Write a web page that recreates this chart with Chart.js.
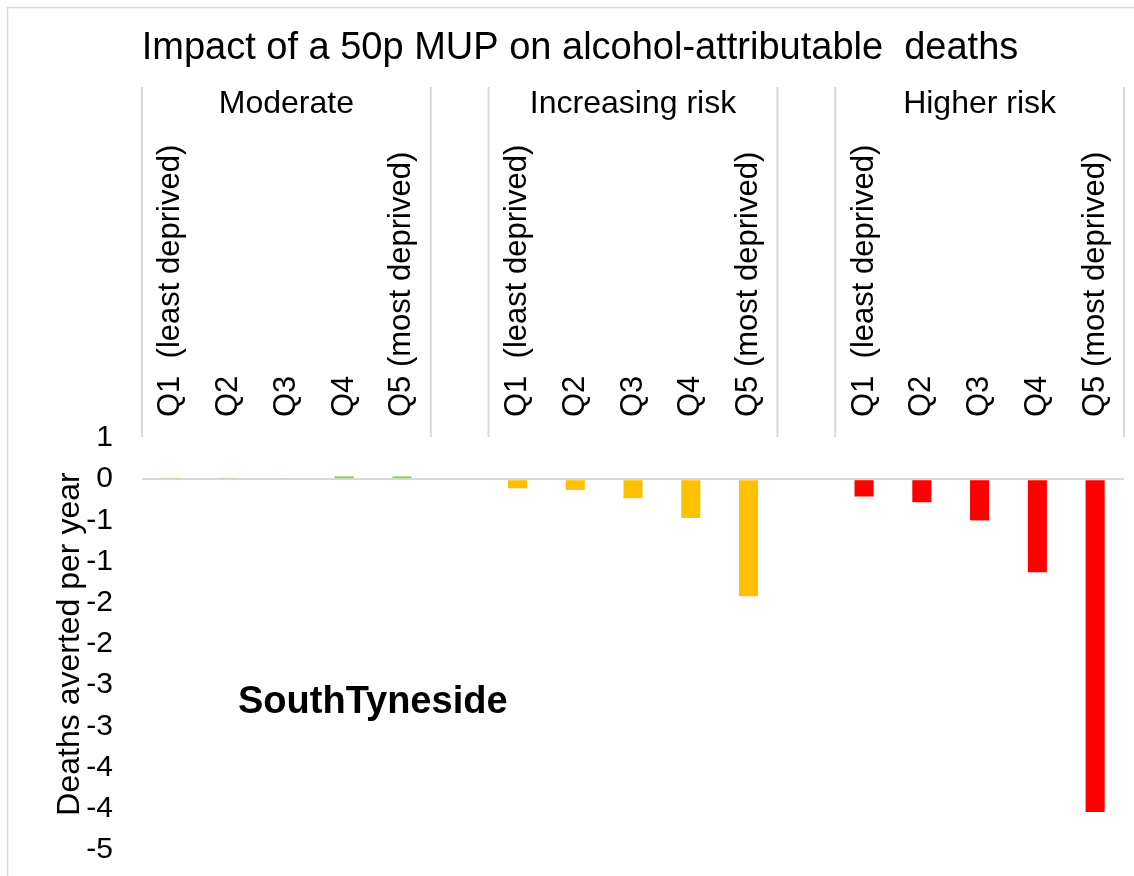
<!DOCTYPE html>
<html>
<head>
<meta charset="utf-8">
<script src="https://cdn.jsdelivr.net/npm/chart.js@4.4.0/dist/chart.umd.min.js"></script>
<style>
  html, body { margin: 0; padding: 0; background: #ffffff; }
  #wrap { width: 1134px; height: 876px; position: relative; }
</style>
</head>
<body>
<div id="wrap"><canvas id="c" width="1134" height="876"></canvas></div>
<script>
const chartTitle = 'Impact of a 50p MUP on alcohol-attributable  deaths';
const yAxisTitle = 'Deaths averted per year';
const areaLabel = 'SouthTyneside';
const groups = ['Moderate', 'Increasing risk', 'Higher risk'];
const quintiles = ['Q1  (least deprived)', 'Q2', 'Q3', 'Q4', 'Q5 (most deprived)'];
const moderate = [0.008, 0.008, 0.01, 0.035, 0.035];
const increasing = [-0.11, -0.13, -0.23, -0.47, -1.42];
const higher = [-0.21, -0.28, -0.50, -1.13, -4.04];
const groupColors = ['#92D050', '#FFC000', '#FF0000'];
const yTickValues = [0.5, 0, -0.5, -1, -1.5, -2, -2.5, -3, -3.5, -4, -4.5];
const yTickLabels = ['1', '0', '-1', '-1', '-2', '-2', '-3', '-3', '-4', '-4', '-5'];

// Build the category table (a blank gap category between groups)
const groupValues = [moderate, increasing, higher];
const labels = [];
const values = [];
const colors = [];
groupValues.forEach((vals, g) => {
  if (g > 0) { labels.push(''); values.push(null); colors.push('rgba(0,0,0,0)'); }
  vals.forEach((v, i) => {
    labels.push(quintiles[i]);
    values.push(v);
    colors.push(groupColors[g]);
  });
});

const FONT = '"Liberation Sans", Arial, sans-serif';
const TITLE_SIZE = 38;
const TITLE_PAD_TOP = 26;
const PLOT_TOP = 438;

const decorPlugin = {
  id: 'decor',
  beforeDraw(chart) {
    const ctx = chart.ctx;
    ctx.save();
    ctx.strokeStyle = '#D9D9D9';
    ctx.lineWidth = 1.5;
    ctx.beginPath();
    ctx.moveTo(7.5, 876);
    ctx.lineTo(7.5, 7.5);
    ctx.lineTo(1134, 7.5);
    ctx.stroke();
    ctx.restore();
  },
  afterDraw(chart) {
    const ctx = chart.ctx;
    const xs = chart.scales.x;
    const n = labels.length;
    const cw = (xs.right - xs.left) / n;
    ctx.save();
    // group separators
    ctx.strokeStyle = '#D9D9D9';
    ctx.lineWidth = 2;
    let idx = 0;
    const bounds = [];
    groupValues.forEach((vals, g) => {
      if (g > 0) idx += 1;
      const start = xs.getPixelForValue(idx) - cw / 2;
      const end = xs.getPixelForValue(idx + vals.length - 1) + cw / 2;
      bounds.push([start, end]);
      idx += vals.length;
    });
    bounds.forEach(([s, e]) => {
      [s, e].forEach(x => {
        ctx.beginPath();
        ctx.moveTo(x, 87);
        ctx.lineTo(x, 437);
        ctx.stroke();
      });
    });
    // group labels
    ctx.fillStyle = '#000000';
    ctx.font = '32px ' + FONT;
    ctx.textAlign = 'center';
    ctx.textBaseline = 'alphabetic';
    bounds.forEach(([s, e], g) => {
      ctx.fillText(groups[g], (s + e) / 2, 113);
    });
    // rotated quintile labels
    ctx.font = '31px ' + FONT;
    ctx.textAlign = 'left';
    labels.forEach((lab, i) => {
      if (!lab) return;
      const x = xs.getPixelForValue(i);
      ctx.save();
      ctx.translate(x, 417);
      ctx.rotate(-Math.PI / 2);
      ctx.fillText(lab, 0, 8.5);
      ctx.restore();
    });
    // area label
    ctx.font = 'bold 38px ' + FONT;
    ctx.textAlign = 'left';
    ctx.fillText(areaLabel, 238, 713);
    ctx.restore();
  }
};

new Chart(document.getElementById('c'), {
  type: 'bar',
  data: {
    labels: labels,
    datasets: [{
      data: values,
      backgroundColor: colors,
      borderWidth: 0,
      categoryPercentage: 1,
      barPercentage: 0.33
    }]
  },
  options: {
    responsive: false,
    animation: false,
    devicePixelRatio: 1,
    layout: { padding: { left: 36, right: 10, top: 0, bottom: 26 } },
    plugins: {
      legend: { display: false },
      tooltip: { enabled: false },
      title: {
        display: true,
        text: chartTitle,
        color: '#000000',
        font: { family: FONT, size: TITLE_SIZE, weight: 'normal', lineHeight: 1.2 },
        padding: { top: TITLE_PAD_TOP, bottom: 0 }
      }
    },
    scales: {
      x: {
        type: 'category',
        position: 'top',
        offset: true,
        grid: { display: false },
        border: { display: false },
        ticks: { display: false },
        afterFit(scale) { scale.height = PLOT_TOP - (TITLE_PAD_TOP + TITLE_SIZE * 1.2); }
      },
      y: {
        min: -4.5,
        max: 0.5,
        z: 1,
        border: { display: false },
        grid: {
          drawTicks: true,
          tickLength: 25,
          tickColor: 'rgba(0,0,0,0)',
          lineWidth: 2,
          color: (c) => (c.tick && c.tick.value === 0) ? 'rgba(191,191,191,0.6)' : 'rgba(0,0,0,0)'
        },
        ticks: {
          stepSize: 0.5,
          padding: 4,
          color: '#000000',
          font: { family: FONT, size: 30 },
          callback: (v) => {
            const k = yTickValues.findIndex(t => Math.abs(t - v) < 1e-9);
            return k >= 0 ? yTickLabels[k] : '';
          }
        },
        title: {
          display: true,
          text: yAxisTitle,
          color: '#000000',
          font: { family: FONT, size: 32, lineHeight: 1.2 },
          padding: { top: 15, bottom: 0 }
        },
        afterFit(scale) { scale.width = 106; }
      }
    }
  },
  plugins: [decorPlugin]
});
</script>
</body>
</html>
